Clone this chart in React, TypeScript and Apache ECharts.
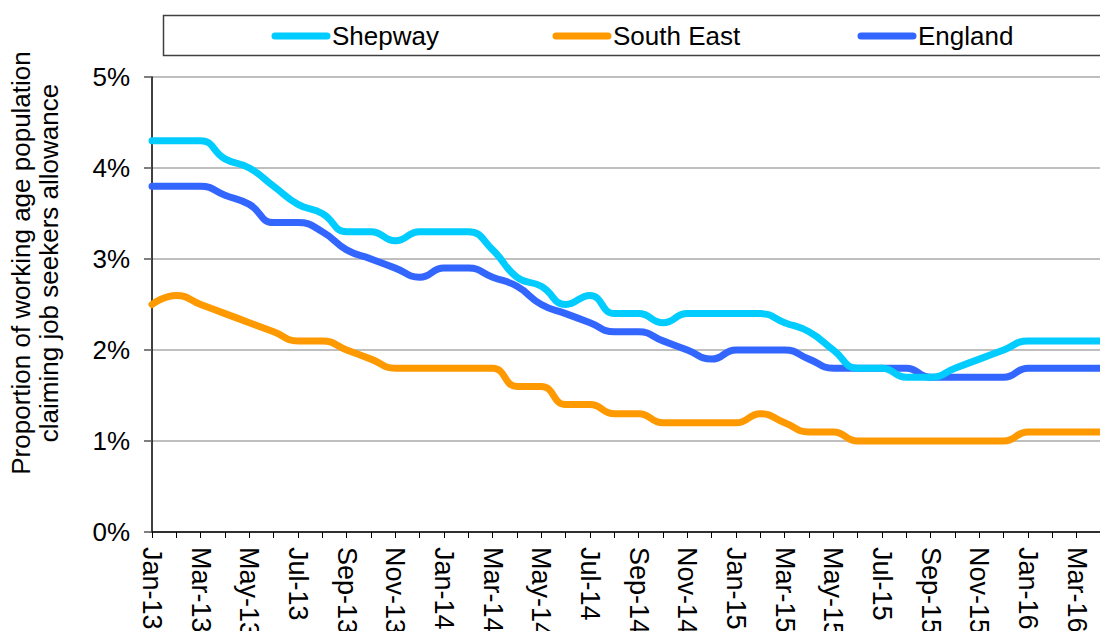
import React, { useEffect, useRef } from "react";
import * as echarts from "echarts";

const months = [
  "Jan-13","Feb-13","Mar-13","Apr-13","May-13","Jun-13","Jul-13","Aug-13","Sep-13","Oct-13","Nov-13","Dec-13",
  "Jan-14","Feb-14","Mar-14","Apr-14","May-14","Jun-14","Jul-14","Aug-14","Sep-14","Oct-14","Nov-14","Dec-14",
  "Jan-15","Feb-15","Mar-15","Apr-15","May-15","Jun-15","Jul-15","Aug-15","Sep-15","Oct-15","Nov-15","Dec-15",
  "Jan-16","Feb-16","Mar-16","Apr-16",
];

const shepway = [
  4.3, 4.3, 4.3, 4.1, 4.0, 3.8, 3.6, 3.5, 3.3, 3.3, 3.2, 3.3,
  3.3, 3.3, 3.1, 2.8, 2.7, 2.5, 2.6, 2.4, 2.4, 2.3, 2.4, 2.4,
  2.4, 2.4, 2.3, 2.2, 2.0, 1.8, 1.8, 1.7, 1.7, 1.8, 1.9, 2.0,
  2.1, 2.1, 2.1, 2.1,
];

const southEast = [
  2.5, 2.6, 2.5, 2.4, 2.3, 2.2, 2.1, 2.1, 2.0, 1.9, 1.8, 1.8,
  1.8, 1.8, 1.8, 1.6, 1.6, 1.4, 1.4, 1.3, 1.3, 1.2, 1.2, 1.2,
  1.2, 1.3, 1.2, 1.1, 1.1, 1.0, 1.0, 1.0, 1.0, 1.0, 1.0, 1.0,
  1.1, 1.1, 1.1, 1.1,
];

const england = [
  3.8, 3.8, 3.8, 3.7, 3.6, 3.4, 3.4, 3.3, 3.1, 3.0, 2.9, 2.8,
  2.9, 2.9, 2.8, 2.7, 2.5, 2.4, 2.3, 2.2, 2.2, 2.1, 2.0, 1.9,
  2.0, 2.0, 2.0, 1.9, 1.8, 1.8, 1.8, 1.8, 1.7, 1.7, 1.7, 1.7,
  1.8, 1.8, 1.8, 1.8,
];

const seriesNames = ["Shepway", "South East", "England"];
const seriesColors = ["#00CCFF", "#FF9900", "#3366FF"];
const yAxisTitle = ["Proportion of working age population", "claiming job seekers allowance"];

const FONT = "'Liberation Sans', Arial, sans-serif";

export default function App() {
  const ref = useRef<HTMLDivElement>(null);

  useEffect(() => {
    document.body.style.margin = "0";
    if (!ref.current) return;
    const chart = echarts.init(ref.current, undefined, { renderer: "svg" });

    const legendX = [272, 553, 858];
    const legendGraphics: any[] = [
      {
        type: "rect",
        shape: { x: 163.5, y: 15.5, width: 960, height: 40 },
        style: { fill: "#fff", stroke: "#404040", lineWidth: 1.5 },
      },
    ];
    seriesNames.forEach((n, i) => {
      legendGraphics.push({
        type: "line",
        shape: { x1: legendX[i] + 3, y1: 36, x2: legendX[i] + 55, y2: 36 },
        style: { stroke: seriesColors[i], lineWidth: 7, lineCap: "round" },
      });
      legendGraphics.push({
        type: "text",
        x: legendX[i] + 60,
        y: 36,
        style: {
          text: n,
          font: `26px ${FONT}`,
          fill: "#000",
          verticalAlign: "middle",
          textAlign: "left",
        },
      });
    });

    const axisTitleGraphics = yAxisTitle.map((t, i) => ({
      type: "text",
      x: 21 + i * 28,
      y: 263,
      rotation: Math.PI / 2,
      style: {
        text: t,
        font: `26px ${FONT}`,
        fill: "#000",
        textAlign: "center",
        verticalAlign: "middle",
      },
    }));

    chart.setOption({
      animation: false,
      backgroundColor: "#fff",
      grid: {
        left: 152,
        top: 77,
        width: 949,
        height: 455,
        containLabel: false,
        outerBoundsMode: "none",
      },
      xAxis: {
        type: "category",
        data: months,
        boundaryGap: false,
        axisLine: { show: true, lineStyle: { color: "#000", width: 1.5 } },
        axisTick: { show: true, interval: 0, length: 6, lineStyle: { color: "#000", width: 1 } },
        axisLabel: {
          interval: 1,
          rotate: -90,
          margin: 15,
          fontSize: 27,
          fontFamily: FONT,
          color: "#000",
        },
        splitLine: { show: false },
      },
      yAxis: {
        type: "value",
        min: 0,
        max: 5,
        interval: 1,
        axisLine: { show: true, lineStyle: { color: "#000", width: 1.5 } },
        axisTick: { show: true, length: 8, inside: false, lineStyle: { color: "#555", width: 1.5 } },
        axisLabel: {
          formatter: (v: number) => `${v}%`,
          fontSize: 26,
          fontFamily: FONT,
          color: "#000",
          margin: 22,
        },
        splitLine: { show: true, lineStyle: { color: "#BFBFBF", width: 2 } },
      },
      series: [
        { name: seriesNames[0], data: shepway },
        { name: seriesNames[1], data: southEast },
        { name: seriesNames[2], data: england },
      ].map((s, i) => ({
        ...s,
        type: "line",
        smooth: 0.5,
        showSymbol: false,
        symbol: "none",
        lineStyle: { color: seriesColors[i], width: 7, cap: "round", join: "round" },
        itemStyle: { color: seriesColors[i] },
        z: 3 - i,
      })),
      graphic: [...legendGraphics, ...axisTitleGraphics],
    });

    return () => chart.dispose();
  }, []);

  return (
    <div
      ref={ref}
      style={{ position: "absolute", left: 0, top: 0, width: 1100, height: 631 }}
    />
  );
}
